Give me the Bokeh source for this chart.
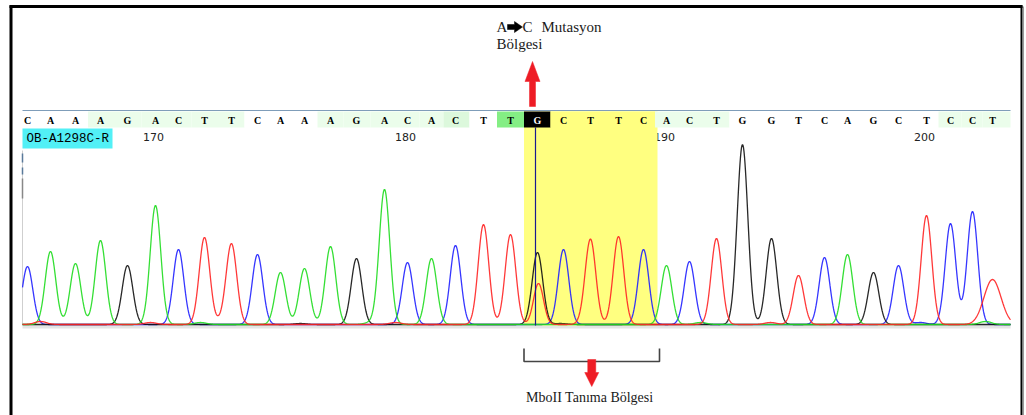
import numpy as np
from bokeh.plotting import figure
from bokeh.models import Range1d, ColumnDataSource
from bokeh.core.properties import value
from bokeh.embed import file_html
from bokeh.resources import INLINE

# ---------------- data ----------------
bases = list("CAAAGACTTCAAAGACACTTGCTTCACTGGTCAGCTCCT")
first_base_number = 165
peak_pos = [27, 50, 75, 100, 127, 155, 178, 204, 231, 257, 280, 304, 330, 356,
            384, 407, 431, 455, 483, 510, 537, 563, 590, 618, 643, 666, 689,
            716, 742, 771, 798, 824, 847, 873, 898, 926, 950, 972, 992]
peak_height = [58, 73, 61, 84, 59, 119, 75, 87, 80, 70, 52, 56, 78, 66, 135,
               62, 66, 79, 100, 90, 72, 75, 84, 88, 75, 59, 63, 86, 180, 86,
               49, 67, 70, 52, 59, 109, 101, 113, 45]
peak_width = [5.3] * 38 + [8.5]
# cell shading of the base-call row (w white, g light green, d green, b bright green, k selected, y highlight)
cell_shade = list("www" + "gggggg" + "www" + "ggggg" + "d" + "w" + "b" + "k" +
                  "yyyy" + "ggg" + "wwwwwwww" + "ggg")
position_labels = [170, 180, 190, 200]
# secondary (mixed) peak under the mutation site
sec_base = ["T"]
sec_pos = [538]
sec_height = [41]
# small baseline bumps
bump_base = ["T", "T", "A", "T", "G", "A", "T", "G", "T", "A", "T", "C", "A"]
bump_pos = [40, 150, 200, 222, 300, 370, 395, 560, 585, 700, 770, 920, 985]
bump_height = [3, 2, 2, 3, 1, 2, 2, 1, 2, 2, 2, 2, 3]

sample_name = "OB-A1298C-R"
mutation_base = 20
site_first, site_last = 20, 24

base_colors = {"A": "#1fdc1f", "C": "#2020ff", "G": "#111111", "T": "#ff2424"}
shade_colors = {"w": "#ffffff", "g": "#ebfdeb", "d": "#dcf8dc", "b": "#84ee84",
                "k": "#000000", "y": "#ffff80"}

# ---------------- layout constants ----------------
X0, X1 = 22, 1010
BASE_Y = 324
ROW_TOP, ROW_BOT = 111, 127

p = figure(width=1026, height=415, x_range=Range1d(0, 1026), y_range=Range1d(415, 0),
           output_backend="svg", toolbar_location=None, min_border=0,
           x_axis_location=None, y_axis_location=None)
p.grid.visible = False
p.outline_line_color = None
p.background_fill_color = "white"
p.border_fill_color = "white"

# outer frame
p.segment(x0=[9], y0=[6], x1=[1022], y1=[6], line_color="black", line_width=3)
p.segment(x0=[10.5], y0=[5], x1=[10.5], y1=[415], line_color="black", line_width=3)
p.segment(x0=[1021], y0=[5], x1=[1021], y1=[415], line_color="black", line_width=2)
p.segment(x0=[1023], y0=[6], x1=[1023], y1=[415], line_color="#9a9a9a", line_width=1)

# cell edges (midpoints between calls)
pos = np.array(peak_pos, dtype=float)
mids = (pos[1:] + pos[:-1]) / 2
lefts = np.concatenate([[X0], mids])
rights = np.concatenate([mids, [X1]])

# position labels (drawn before highlight so the highlight overlaps them)
lab_x = [peak_pos[n - first_base_number] - 2 for n in position_labels]
p.text(x=lab_x, y=[136] * len(lab_x), text=[str(n) for n in position_labels],
       text_font=value("DejaVu Sans"), text_font_size="11px", text_color="#222222",
       text_align="center", text_baseline="middle")

# baseline strip
p.quad(left=[X0], right=[X1], top=[BASE_Y], bottom=[328], fill_color="#e4e4e4", line_color=None)
# left edge marks
p.segment(x0=[X0], y0=[150], x1=[X0], y1=[BASE_Y], line_color="#cfcfcf", line_width=1)
p.segment(x0=[X0, X0, X0], y0=[153, 167, 178], x1=[X0, X0, X0], y1=[162, 174, 198],
          line_color=["#5a7a9a", "#5a7a9a", "#888888"], line_width=1.5)

# highlighted recognition site
site_left, site_right = lefts[site_first], rights[site_last] + 2.5
p.quad(left=[site_left], right=[site_right], top=[ROW_TOP], bottom=[BASE_Y + 1],
       fill_color="#ffff80", line_color=None)

# traces
xs = np.arange(X0, X1 + 0.25, 0.5)
for b in ["C", "G", "A", "T"]:
    sig = np.zeros_like(xs)
    for bb, pp, hh, ww in zip(bases, peak_pos, peak_height, peak_width):
        if bb == b:
            sig += hh * np.exp(-0.5 * ((xs - pp) / ww) ** 2)
    for bb, pp, hh in zip(sec_base, sec_pos, sec_height):
        if bb == b:
            sig += hh * np.exp(-0.5 * ((xs - pp) / 5.0) ** 2)
    for bb, pp, hh in zip(bump_base, bump_pos, bump_height):
        if bb == b:
            sig += hh * np.exp(-0.5 * ((xs - pp) / 6.0) ** 2)
    p.line(xs, BASE_Y - sig, line_color=base_colors[b], line_width=1.3, line_alpha=0.9)

# cursor at mutation site
p.segment(x0=[peak_pos[mutation_base] - 2], y0=[ROW_BOT], x1=[peak_pos[mutation_base] - 2],
          y1=[BASE_Y + 1], line_color="#1a1a90", line_width=1.2)

# base-call row
row = ColumnDataSource(dict(left=lefts, right=rights,
                            fill=[shade_colors[s] for s in cell_shade]))
p.quad(left="left", right="right", top=ROW_TOP, bottom=ROW_BOT, fill_color="fill",
       line_color=None, source=row)
p.segment(x0=[X0], y0=[110], x1=[X1], y1=[110], line_color="#7f9db9", line_width=1)
p.text(x=peak_pos, y=[119.5] * len(bases), text=bases,
       text_color=["white" if s == "k" else "black" for s in cell_shade],
       text_font=value("Liberation Serif"), text_font_size="10px", text_font_style="bold",
       text_align="center", text_baseline="middle")

# sample name tag
p.quad(left=[X0], right=[112], top=[128], bottom=[148], fill_color="#52f0f6", line_color=None)
p.text(x=[26], y=[138.5], text=[sample_name], text_font=value("Liberation Mono"),
       text_font_size="12.5px", text_color="black", text_align="left", text_baseline="middle")

# ---------------- annotations ----------------
serif = value("Liberation Serif")
p.text(x=[496], y=[26], text=["A"], text_font=serif, text_font_size="15px",
       text_color="#1a1a1a", text_align="left", text_baseline="middle")
p.patch(x=[507, 514, 514, 522, 514, 514, 507], y=[24, 24, 21, 26.5, 32, 29, 29],
        fill_color="black", line_color="black", line_width=0.5)
p.text(x=[522], y=[26], text=["C"], text_font=serif, text_font_size="15px",
       text_color="#1a1a1a", text_align="left", text_baseline="middle")
p.text(x=[541], y=[26], text=["Mutasyon"], text_font=serif, text_font_size="15px",
       text_color="#1a1a1a", text_align="left", text_baseline="middle")
p.text(x=[496], y=[43], text=["Bölgesi"], text_font=serif, text_font_size="15px",
       text_color="#1a1a1a", text_align="left", text_baseline="middle")

# red arrow up to mutation
p.patch(x=[529, 535, 535, 539.5, 532, 524.5, 529], y=[106, 106, 81, 81, 61, 81, 81],
        fill_color="#ee1c25", line_color="#ee1c25", line_width=0.5)

# bracket under recognition site
bl, br = site_left, site_right + 2
p.line(x=[bl, bl, br, br], y=[348, 361, 361, 348], line_color="#444444", line_width=1.6)
cx = (bl + br) / 2
p.patch(x=[cx - 4, cx + 4, cx + 4, cx + 7, cx, cx - 7, cx - 4], y=[359, 359, 372, 372, 386, 372, 372],
        fill_color="#ee1c25", line_color="#ee1c25", line_width=0.5)
p.text(x=[cx - 2], y=[397], text=["MboII Tanıma Bölgesi"], text_font=serif, text_font_size="14px",
       text_color="#1a1a1a", text_align="center", text_baseline="middle")

open("out.html", "w").write(file_html(p, INLINE))
